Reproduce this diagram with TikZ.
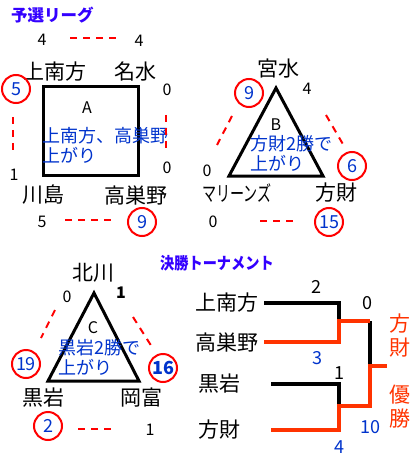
\documentclass[tikz,border=0pt]{standalone}
\usepackage{fontspec}
\newfontfamily\jp{Noto Sans CJK JP}
\definecolor{TitleBlue}{RGB}{51,0,255}
\definecolor{NoteBlue}{RGB}{0,51,204}
\definecolor{RingRed}{RGB}{255,0,0}
\definecolor{WinRed}{RGB}{255,51,0}
\usetikzlibrary{calc}

\begin{document}
\begin{tikzpicture}[x=1pt,y=-1pt,
    team/.style={font=\jp\fontsize{21}{24}\selectfont, inner sep=0pt},
    score/.style={font=\jp\fontsize{16}{16}\selectfont, inner sep=0pt},
    bscore/.style={font=\jp\fontsize{18}{18}\selectfont, inner sep=0pt},
    ring/.style={circle, draw=RingRed, line width=2pt, minimum size=28pt,
                 inner sep=0pt, text=NoteBlue, font=\jp\fontsize{18}{18}\selectfont},
    note/.style={font=\jp\fontsize{18}{20}\selectfont, text=NoteBlue,
                 inner sep=0pt, anchor=west, align=left},
    tie/.style={RingRed, line width=2pt, dash pattern=on 7pt off 6pt},
    group/.style={line width=3pt},
    title/.style={font=\jp\bfseries\fontsize{16.5}{16.5}\selectfont, text=TitleBlue,
                  inner sep=0pt, anchor=west},
    win/.style={WinRed, line width=3.5pt},
    lose/.style={black, line width=3.5pt}]
  \useasboundingbox (0,0) rectangle (414,457);

  % titles
  \node[title] (prelim) at (11,15) {予選リーグ};
  \node[title] (knockout) at (160,263) {\scalebox{0.86}[1]{決勝トーナメント}};

  % league A
  \draw[group] (43,87) rectangle (138,175);
  \node[score] (labA) at (87,108) {A};
  \node[note] (noteA) at (42,145) {上南方、高巣野\\上がり};
  \node[team] (kaminan) at (55,72) {上南方};
  \node[team] (meisui) at (135,72) {名水};
  \node[team] (kawashima) at (43,195) {川島};
  \node[team] (takasu) at (136,195) {高巣野};

  % league B
  \draw[group, line join=miter] (276,88) -- (229,176) -- (323,176) -- cycle;
  \node[score] (labB) at (276,125) {B};
  \node[note] (noteB) at (250,153) {方財2勝で\\上がり};
  \node[team] (miyamizu) at (278,69) {宮水};
  \node[team] (marines) at (237,193) {\scalebox{0.67}[1]{マリーンズ}};
  \node[team] (hozai) at (336,193) {方財};

  % league C
  \draw[group, line join=miter] (94,293) -- (48,381) -- (139,381) -- cycle;
  \node[score] (labC) at (93,328) {C};
  \node[note] (noteC) at (58,357) {黒岩2勝で\\上がり};
  \node[team] (kitagawa) at (93,273) {北川};
  \node[team] (kuroiwa) at (43,398) {黒岩};
  \node[team] (okatomi) at (141,398) {岡富};

  % match scores
  \foreach \x/\y/\s [count=\i] in {42/40/4, 139/41/4, 167/90/0, 167/168/0,
                                   14/175/1, 42/222/5, 307/89/4, 207/171/0,
                                   213/222/0, 67/297/0, 121/293/\bfseries 1, 150/430/1}
    \node[score] (score\i) at (\x,\y) {\s};
  \foreach \x/\y/\s [count=\i] in {16/89/5, 142/222/9, 249/93/9, 352/166/6,
                                   329/222/15, 26/364/19, 163/368/\bfseries 16, 48/426/2}
    \node[ring] (ring\i) at (\x,\y) {\s};

  % match lines
  \foreach \a/\b/\c/\d in {70/38/117/38, 13/117/13/153, 166/115/166/148,
                           65/220/113/220, 232/116/217/145, 326/115/344/146,
                           260/221/297/221, 55/310/41/338, 133/317/152/347,
                           78/429/113/429}
    \draw[tie] (\a,\b) -- (\c,\d);

  % final bracket
  \node[team, anchor=west] (fkaminan) at (195,303) {上南方};
  \node[team, anchor=west] (ftakasu) at (195,342) {高巣野};
  \node[team, anchor=west] (fkuroiwa) at (198,384) {黒岩};
  \node[team, anchor=west] (fhozai) at (198,430) {方財};
  \coordinate (semi1) at (339,321);
  \coordinate (semi2) at (339,406);
  \coordinate (final) at (370,366);
  \coordinate (champ) at (387,366);

  \draw[lose] ([xshift=6pt]fkaminan.east) -| (semi1);
  \draw[lose] ([xshift=31pt]fkuroiwa.east) -| (semi2);
  \draw[lose] (final |- semi1) -- (final);
  \draw[win] ([xshift=6pt]ftakasu.east) -| (semi1) -- (final |- semi1);
  \draw[win] ([xshift=31pt]fhozai.east) -| (semi2) -- (final |- semi2) -- (final) -- (champ);

  \node[bscore] (f1) at (316,287) {2};
  \node[bscore] (f2) at (367,303) {0};
  \node[bscore, text=NoteBlue] (f3) at (317,358) {3};
  \node[bscore] (f4) at (339,373) {1};
  \node[bscore, text=NoteBlue] (f5) at (339,447) {4};
  \node[bscore, text=NoteBlue] (f6) at (370,427) {10};
  \node[team, text=WinRed, align=center] (winner) at (400,335.5) {方\\財};
  \node[team, text=WinRed, align=center] (victory) at (400,406.5) {優\\勝};
\end{tikzpicture}
\end{document}
